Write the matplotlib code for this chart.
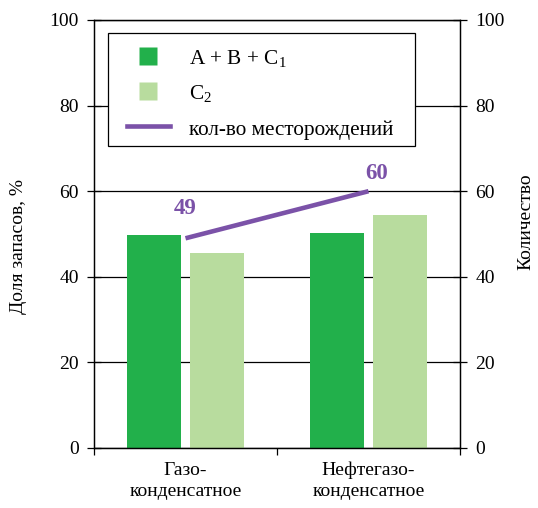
import matplotlib.pyplot as plt
import numpy as np
from matplotlib.lines import Line2D
from matplotlib.patches import Rectangle

plt.rcParams.update({
    'font.family': ['Liberation Serif', 'DejaVu Serif'],
    'mathtext.fontset': 'custom',
    'mathtext.rm': 'Liberation Serif',
    'mathtext.it': 'Liberation Serif:italic',
    'font.size': 14,
})

# данные
categories = ['Газо-\nконденсатное', 'Нефтегазо-\nконденсатное']
share_abc1 = [49.7, 50.2]
share_c2 = [45.6, 54.4]
fields_count = [49, 60]

col_abc1 = '#22B04B'
col_c2 = '#B8DC9E'
col_line = '#7B52A8'

W, H = 538, 508
fig = plt.figure(figsize=(W / 100, H / 100), dpi=100)
ax = fig.add_axes([94 / W, 1 - 448 / H, 366 / W, 428 / H])

x = np.arange(len(categories))
w = 0.29
off = 0.172
ax.bar(x - off, share_abc1, w, color=col_abc1, zorder=2)
ax.bar(x + off, share_c2, w, color=col_c2, zorder=2)

ax.set_xlim(-0.5, 1.5)
ax.set_ylim(0, 100)
ax.set_yticks(np.arange(0, 101, 20))
ax.grid(axis='y', color='black', linewidth=0.9, zorder=0)
ax.set_axisbelow(True)

# деления по границам категорий, подписи по центрам
ax.set_xticks([-0.5, 0.5, 1.5])
ax.set_xticklabels([])
ax.set_xticks(x, minor=True)
ax.set_xticklabels(categories, minor=True, linespacing=1.3)
ax.tick_params(axis='x', which='major', direction='out', length=5, width=0.9)
ax.tick_params(axis='x', which='minor', length=0, pad=10)
ax.tick_params(axis='y', direction='inout', length=10, width=0.9, pad=6)
for s in ax.spines.values():
    s.set_linewidth(0.9)
ax.set_ylabel('Доля запасов, %')
ax.yaxis.set_label_coords(-0.183, 0.47)

ax2 = ax.twinx()
ax2.set_ylim(0, 100)
ax2.set_yticks(np.arange(0, 101, 20))
ax2.tick_params(axis='y', direction='inout', length=10, width=0.9, pad=6)
ax2.plot(x, fields_count, color=col_line, linewidth=3.3, solid_capstyle='butt', zorder=3)
ax2.set_ylabel('Количество')
ax2.yaxis.set_label_coords(1.156, 0.528)
for s in ax2.spines.values():
    s.set_linewidth(0.9)

ax2.annotate(str(fields_count[0]), (x[0], fields_count[0]), xytext=(0, 14),
             textcoords='offset points', ha='center', va='bottom',
             color=col_line, fontweight='bold', fontsize=16.5)
ax2.annotate(str(fields_count[1]), (x[1], fields_count[1]), xytext=(6, 5),
             textcoords='offset points', ha='center', va='bottom',
             color=col_line, fontweight='bold', fontsize=16.5)

# рамка легенды поверх линий сетки
frame = Rectangle((108 / W, 1 - 146 / H), 307 / W, 113 / H, transform=fig.transFigure,
                  facecolor='white', edgecolor='black', linewidth=0.9, zorder=4)
ax2.add_patch(frame)

handles = [
    Line2D([0], [0], linestyle='none', marker='s', markersize=13.5,
           markerfacecolor=col_abc1, markeredgecolor='none'),
    Line2D([0], [0], linestyle='none', marker='s', markersize=13.5,
           markerfacecolor=col_c2, markeredgecolor='none'),
    Line2D([0], [0], color=col_line, linewidth=3.3),
]
labels = ['A + B + C$_1$', 'C$_2$', 'кол-во месторождений']
leg = ax2.legend(handles, labels, loc='upper left',
                 bbox_to_anchor=(108 / W, 1 - 28 / H),
                 bbox_transform=fig.transFigure, frameon=False,
                 borderpad=0.9, labelspacing=0.64,
                 handlelength=2.0, handleheight=1.0, handletextpad=0.9,
                 borderaxespad=0, fontsize=15.3)
leg.set_zorder(5)

fig.savefig('out.png', dpi=100)
